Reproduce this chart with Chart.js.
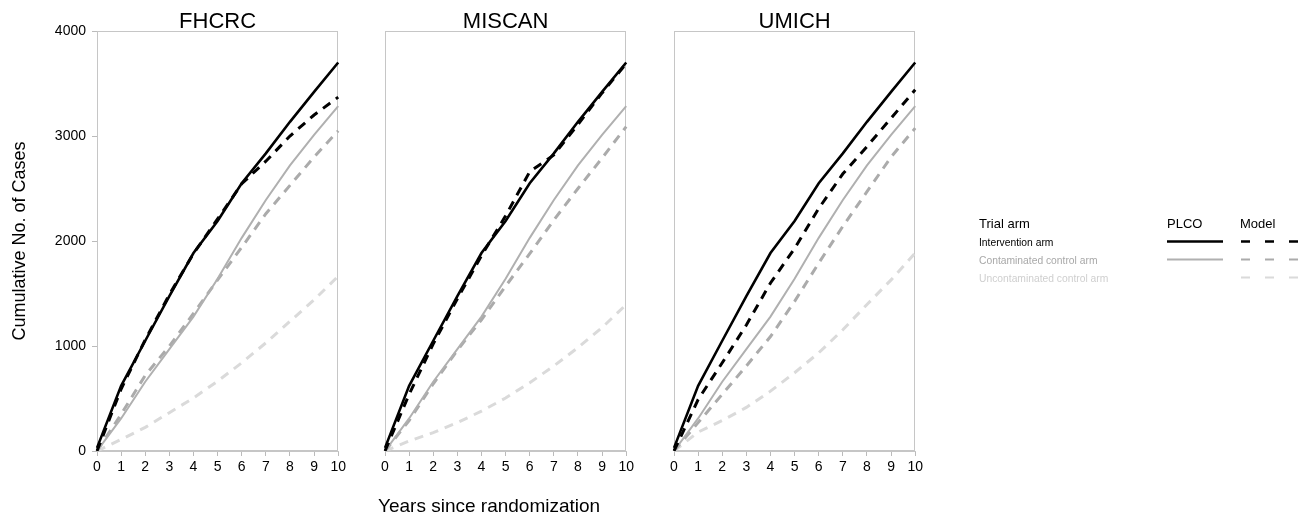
<!DOCTYPE html>
<html>
<head>
<meta charset="utf-8">
<script src="https://cdn.jsdelivr.net/npm/chart.js@4.4.1/dist/chart.umd.min.js"></script>
<style>
  body { margin: 0; background: #fff; width: 1308px; height: 519px; position: relative; overflow: hidden; }
  canvas { position: absolute; top: 0; }
  #overlay { position: absolute; left: 0; top: 0; font-family: "Liberation Sans", Arial, sans-serif; }
</style>
</head>
<body>
<canvas id="fhcrc" width="349" height="480" style="left:0px"></canvas>
<canvas id="miscan" width="262" height="480" style="left:375px"></canvas>
<canvas id="umich" width="262" height="480" style="left:664px"></canvas>
<svg id="overlay" width="1308" height="519"></svg>
<script>
// years since randomization
var years = ['0', '1', '2', '3', '4', '5', '6', '7', '8', '9', '10'];
var yTicks = [0, 1000, 2000, 3000, 4000];

// observed PLCO counts (same in each panel)
var plcoIntervention = [30, 620, 1050, 1475, 1885, 2190, 2550, 2835, 3135, 3420, 3700];
var plcoContaminated = [0, 310, 660, 970, 1280, 1640, 2030, 2390, 2720, 3010, 3285];

// model predictions
var fhcrcIntervention = [0, 590, 1060, 1490, 1880, 2210, 2545, 2760, 3000, 3200, 3370];
var fhcrcContaminated = [0, 350, 720, 1000, 1310, 1630, 1940, 2260, 2530, 2800, 3050];
var fhcrcUncontaminated = [0, 110, 225, 365, 505, 665, 840, 1030, 1235, 1440, 1665];

var miscanIntervention = [0, 540, 1020, 1450, 1860, 2240, 2660, 2820, 3110, 3410, 3690];
var miscanContaminated = [0, 290, 640, 960, 1250, 1570, 1880, 2200, 2500, 2790, 3090];
var miscanUncontaminated = [0, 95, 175, 270, 380, 505, 650, 810, 985, 1175, 1395];

var umichIntervention = [0, 490, 840, 1200, 1600, 1930, 2310, 2640, 2900, 3170, 3440];
var umichContaminated = [0, 270, 540, 810, 1090, 1425, 1790, 2140, 2470, 2800, 3075];
var umichUncontaminated = [0, 180, 290, 415, 570, 745, 935, 1155, 1395, 1630, 1885];

var armNames = ['Intervention arm', 'Contaminated control arm', 'Uncontaminated control arm'];
var armColors = ['#000000', '#b0b0b0', '#dadada'];
var armTextColors = ['#000000', '#a8a8a8', '#cfcfcf'];

Chart.defaults.font.family = '"Liberation Sans", Arial, sans-serif';
Chart.defaults.color = '#000';

var framePlugin = {
  id: 'frame',
  beforeDatasetsDraw: function(chart) {
    var a = chart.chartArea, ctx = chart.ctx;
    ctx.save();
    ctx.strokeStyle = '#c6c6c6';
    ctx.lineWidth = 1;
    ctx.strokeRect(Math.round(a.left) + 0.5, Math.round(a.top) + 0.5,
      Math.round(a.right - a.left) - 1, Math.round(a.bottom - a.top) - 1);
    ctx.restore();
  },
  afterDraw: function(chart, args, opts) {
    var a = chart.chartArea, ctx = chart.ctx;
    ctx.save();
    ctx.font = '22px "Liberation Sans", Arial, sans-serif';
    ctx.fillStyle = '#000';
    ctx.textAlign = 'center';
    ctx.textBaseline = 'alphabetic';
    ctx.fillText(opts.text, (a.left + a.right) / 2, 28);
    ctx.restore();
  }
};

function makePanel(id, title, intervention, contaminated, uncontaminated, showY) {
  new Chart(document.getElementById(id), {
    type: 'line',
    data: {
      labels: years,
      datasets: [
        { label: 'PLCO intervention', data: plcoIntervention, borderColor: armColors[0], borderWidth: 2.6 },
        { label: 'Model intervention', data: intervention, borderColor: armColors[0], borderWidth: 3, borderDash: [9, 7] },
        { label: 'PLCO contaminated', data: plcoContaminated, borderColor: armColors[1], borderWidth: 2 },
        { label: 'Model contaminated', data: contaminated, borderColor: '#ababab', borderWidth: 3, borderDash: [9, 7] },
        { label: 'Model uncontaminated', data: uncontaminated, borderColor: armColors[2], borderWidth: 3, borderDash: [9, 7] }
      ]
    },
    options: {
      responsive: false,
      animation: false,
      layout: { padding: { top: 31, right: 10, left: showY ? 0 : 10, bottom: 0 } },
      elements: { point: { radius: 0 }, line: { tension: 0, fill: false } },
      plugins: { legend: { display: false }, tooltip: { enabled: false }, frame: { text: title } },
      scales: {
        x: {
          grid: { drawOnChartArea: false, tickLength: 5, color: '#bbb' },
          border: { color: '#c6c6c6' },
          ticks: { font: { size: 14 }, color: '#000', padding: 3, maxRotation: 0, autoSkip: false },
          afterFit: function(s) { s.height = 29; }
        },
        y: {
          display: showY,
          min: 0, max: 4000,
          afterBuildTicks: function(s) { s.ticks = yTicks.map(function(v) { return { value: v }; }); },
          grid: { drawOnChartArea: false, tickLength: 5, color: '#bbb' },
          border: { color: '#c6c6c6' },
          ticks: { font: { size: 14 }, color: '#000', padding: 6, callback: function(v) { return String(v); } },
          title: { display: true, text: 'Cumulative No. of Cases', font: { size: 18 }, color: '#000', padding: { top: 9, bottom: 0 } },
          afterFit: function(s) { s.width = showY ? 97 : 0; }
        }
      }
    },
    plugins: [framePlugin]
  });
}

makePanel('fhcrc', 'FHCRC', fhcrcIntervention, fhcrcContaminated, fhcrcUncontaminated, true);
makePanel('miscan', 'MISCAN', miscanIntervention, miscanContaminated, miscanUncontaminated, false);
makePanel('umich', 'UMICH', umichIntervention, umichContaminated, umichUncontaminated, false);

// x-axis title and legend table
var svg = document.getElementById('overlay');
var NS = 'http://www.w3.org/2000/svg';
function addText(x, y, str, size, color) {
  var t = document.createElementNS(NS, 'text');
  t.setAttribute('x', x); t.setAttribute('y', y);
  t.setAttribute('font-size', size); t.setAttribute('fill', color);
  t.textContent = str;
  svg.appendChild(t);
}
function addLine(x1, x2, y, color, width, dash) {
  var l = document.createElementNS(NS, 'line');
  l.setAttribute('x1', x1); l.setAttribute('x2', x2);
  l.setAttribute('y1', y); l.setAttribute('y2', y);
  l.setAttribute('stroke', color); l.setAttribute('stroke-width', width);
  if (dash) l.setAttribute('stroke-dasharray', dash);
  svg.appendChild(l);
}
addText(378, 512, 'Years since randomization', 19, '#000');
addText(979, 228, 'Trial arm', 13, '#000');
addText(1167, 228, 'PLCO', 13, '#000');
addText(1240, 228, 'Model', 13, '#000');
armNames.forEach(function(name, i) {
  var y = 246 + i * 18;
  addText(979, y, name, 10.3, armTextColors[i]);
  if (i < 2) addLine(1167, 1223, y - 4.5, armColors[i], i === 0 ? 2.7 : 2.2);
  addLine(1241, 1298, y - 4.5, i === 1 ? '#ababab' : armColors[i], i === 0 ? 2.7 : 2.2, '9 15');
});
</script>
</body>
</html>
